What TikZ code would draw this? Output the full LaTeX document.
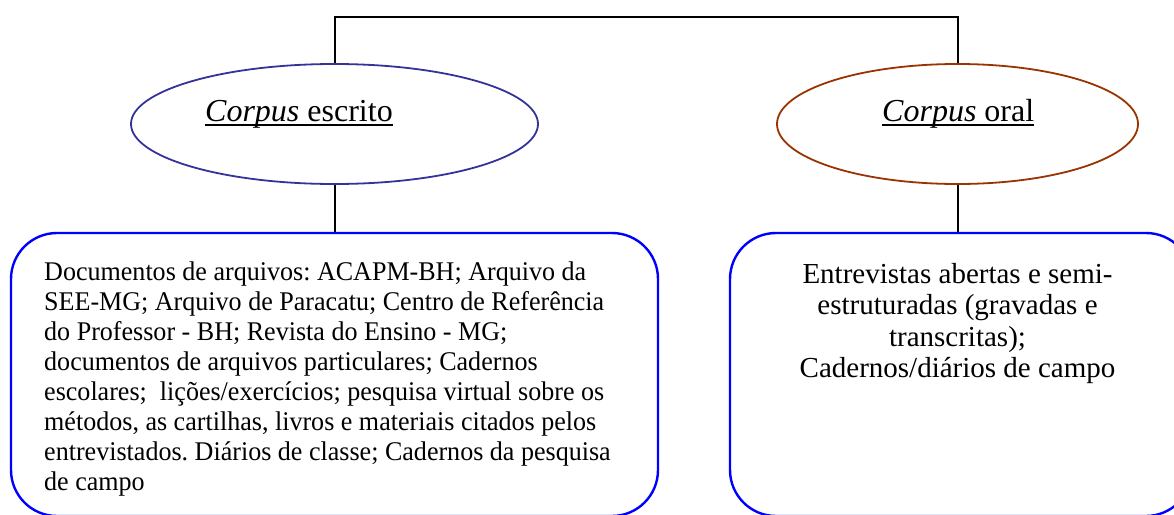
\documentclass[tikz,border=0pt]{standalone}
\usepackage{fontspec}
\setmainfont{Liberation Serif}
\newfontfamily\leftfont[FakeStretch=0.965]{Liberation Serif}
\usetikzlibrary{shapes.geometric}
\definecolor{ellblue}{RGB}{51,51,153}
\definecolor{ellbrown}{RGB}{153,51,0}
\definecolor{boxblue}{RGB}{0,0,255}
\newcommand\leftlines{\vtop{\halign{##\hfil\cr
Documentos de arquivos: ACAPM-BH; Arquivo da\cr
SEE-MG; Arquivo de Paracatu; Centro de Refer\^encia\cr
do Professor - BH; Revista do Ensino - MG;\cr
documentos de arquivos particulares; Cadernos\cr
escolares; \ li\c{c}\~oes/exerc\'icios; pesquisa virtual sobre os\cr
m\'etodos, as cartilhas, livros e materiais citados pelos\cr
entrevistados. Di\'arios de classe; Cadernos da pesquisa\cr
de campo\cr}}}
\newcommand\rightlines{\vtop{\halign{\hfil##\hfil\cr
Entrevistas abertas e semi-\cr
estruturadas (gravadas e\cr
transcritas);\cr
Cadernos/di\'arios de campo\cr}}}
\tikzset{
  ell/.style={ellipse, draw, line width=1.8pt, minimum height=120pt, inner sep=0pt},
  roundbox/.style={rectangle, draw=boxblue, line width=2.4pt, rounded corners=46pt, inner sep=0pt},
  conn/.style={draw=black, line width=2pt},
  title/.style={inner sep=0pt, font=\fontsize{32pt}{38pt}\selectfont, anchor=base west},
}
\begin{document}
\frenchspacing
\begin{tikzpicture}[x=1pt,y=-1pt]
\useasboundingbox (0,0) rectangle (1174,514);
\clip (0,0) rectangle (1174,514);
\coordinate (top) at (0,16.5);
% ellipses
\node[ell, draw=ellblue, minimum width=407pt] (le) at (334.5,124) {};
\node[ell, draw=ellbrown, minimum width=361pt] (re) at (957.5,124) {};
% boxes
\node[roundbox, minimum width=647pt, minimum height=283pt] (lb) at (334.5,374.5) {};
\node[roundbox, minimum width=462pt, minimum height=283pt] (rb) at (961,374.5) {};
% titles
\node[title] (lt) at (205,121) {\textit{Corpus} escrito};
\node[title] (rt) at (882,121) {\textit{Corpus} oral};
\draw[line width=1.6pt] ([yshift=-4pt]lt.base west) -- ([yshift=-4pt]lt.base east);
\draw[line width=1.6pt] ([yshift=-4pt]rt.base west) -- ([yshift=-4pt]rt.base east);
% connectors
\draw[conn] (le.north) -- (le.north |- top) -- (re.north |- top) -- (re.north);
\draw[conn] (le.south) -- (le.south |- lb.north);
\draw[conn] (re.south) -- (re.south |- rb.north);
% texts
\node[anchor=base west, inner sep=0pt, font=\leftfont\fontsize{27pt}{30.1pt}\selectfont] (ltext) at (44,280) {\leftlines};
\node[anchor=base, inner sep=0pt, font=\fontsize{29pt}{31.5pt}\selectfont] (rtext) at (957.5,283) {\rightlines};
\end{tikzpicture}
\end{document}
